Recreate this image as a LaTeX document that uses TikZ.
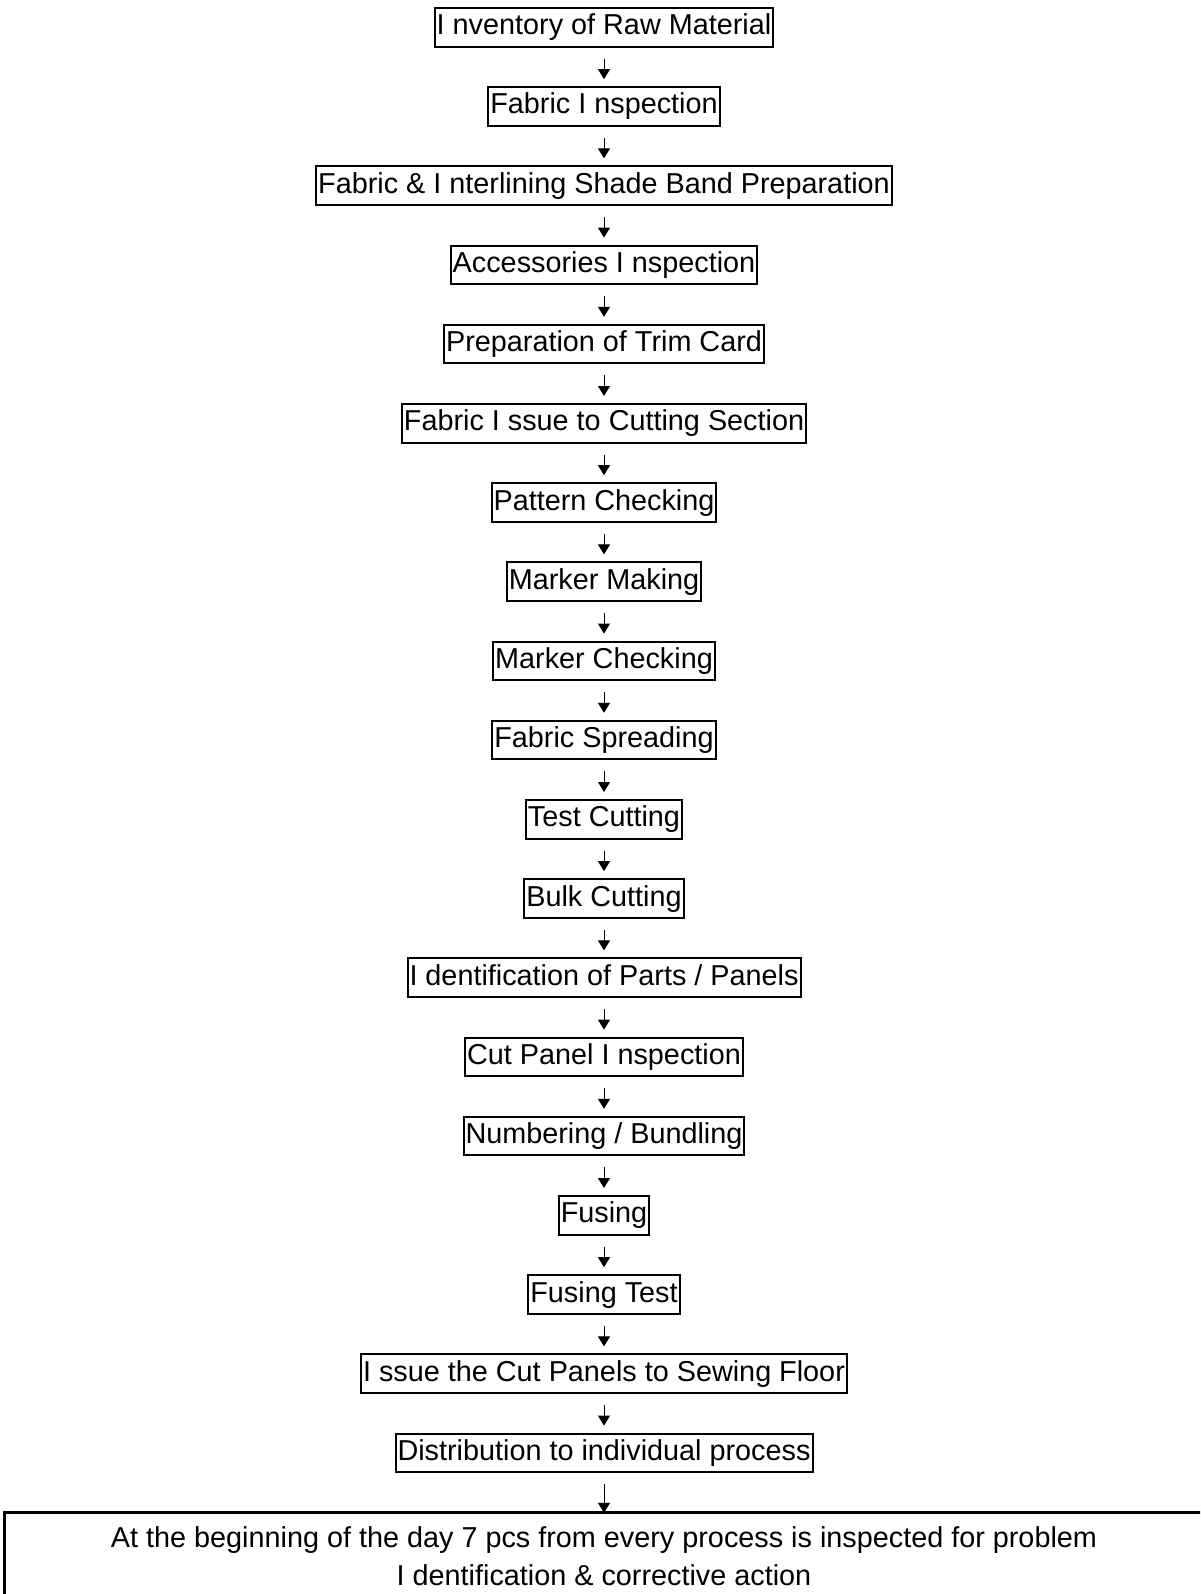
\documentclass[tikz,border=0pt]{standalone}
\usepackage{fontspec}
\setmainfont{Liberation Sans}
\usetikzlibrary{positioning, arrows.meta}

\begin{document}
\begin{tikzpicture}[
	proc/.style={draw, line width=1pt, inner sep=1pt, outer sep=0pt, minimum height=19.3pt, text height=11pt, text depth=3.5pt, font=\fontsize{14.4}{17}\selectfont},
	flow/.style={-{Triangle[width=6pt,length=5pt]}, line width=0.5pt, shorten <=6pt, shorten >=4pt},
	node distance=20.3pt]
	\clip (0,0) rectangle (600pt,-797pt);
	\node[proc] (inv) at (302pt,-13.65pt) {I nventory of Raw Material};
	\node[proc] (fabinsp) [below=of inv] {Fabric I nspection};
	\node[proc] (shade) [below=of fabinsp] {Fabric \& I nterlining Shade Band Preparation};
	\node[proc] (accinsp) [below=of shade] {Accessories I nspection};
	\node[proc] (trim) [below=of accinsp] {Preparation of Trim Card};
	\node[proc] (issue) [below=of trim] {Fabric I ssue to Cutting Section};
	\node[proc] (pattern) [below=of issue] {Pattern Checking};
	\node[proc] (marker) [below=of pattern] {Marker Making};
	\node[proc] (markchk) [below=of marker] {Marker Checking};
	\node[proc] (spread) [below=of markchk] {Fabric Spreading};
	\node[proc] (testcut) [below=of spread] {Test Cutting};
	\node[proc] (bulk) [below=of testcut] {Bulk Cutting};
	\node[proc] (ident) [below=of bulk] {I dentification of Parts / Panels};
	\node[proc] (panel) [below=of ident] {Cut Panel I nspection};
	\node[proc] (bundle) [below=of panel] {Numbering / Bundling};
	\node[proc] (fusing) [below=of bundle] {Fusing};
	\node[proc] (fustest) [below=of fusing] {Fusing Test};
	\node[proc] (sewing) [below=of fustest] {I ssue the Cut Panels to Sewing Floor};
	\node[proc] (dist) [below=of sewing] {Distribution to individual process};
	\node (final) [below=of dist, draw, line width=1.5pt, outer sep=0pt, minimum width=600pt, minimum height=43pt, align=center, font=\fontsize{14.4}{19}\selectfont] {At the beginning of the day 7 pcs from every process is inspected for problem\\ I dentification \& corrective action};

	\draw[flow] (inv) -- (fabinsp);
	\draw[flow] (fabinsp) -- (shade);
	\draw[flow] (shade) -- (accinsp);
	\draw[flow] (accinsp) -- (trim);
	\draw[flow] (trim) -- (issue);
	\draw[flow] (issue) -- (pattern);
	\draw[flow] (pattern) -- (marker);
	\draw[flow] (marker) -- (markchk);
	\draw[flow] (markchk) -- (spread);
	\draw[flow] (spread) -- (testcut);
	\draw[flow] (testcut) -- (bulk);
	\draw[flow] (bulk) -- (ident);
	\draw[flow] (ident) -- (panel);
	\draw[flow] (panel) -- (bundle);
	\draw[flow] (bundle) -- (fusing);
	\draw[flow] (fusing) -- (fustest);
	\draw[flow] (fustest) -- (sewing);
	\draw[flow] (sewing) -- (dist);
	\draw[flow, shorten >=0pt] (dist) -- (final);
\end{tikzpicture}
\end{document}
